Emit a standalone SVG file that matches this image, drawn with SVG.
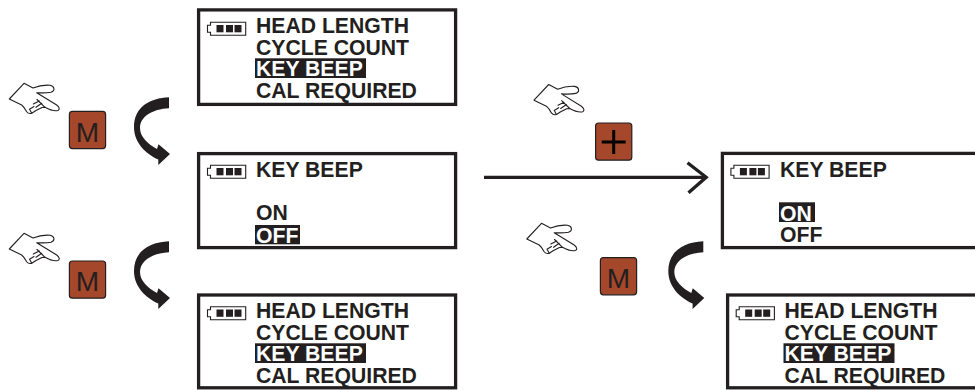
<svg xmlns="http://www.w3.org/2000/svg" width="975" height="390" viewBox="0 0 975 390">
<style>
.box{fill:#fff;stroke:#231f20;stroke-width:3.3}
.t{font-family:"Liberation Sans",Arial,sans-serif;font-weight:700;font-size:21.2px;fill:#231f20}
.w{fill:#fff}
.hl{fill:#231f20}
.btn{fill:#a5472a;stroke:#231f20;stroke-width:1.2}
.key{font-family:"Liberation Sans",Arial,sans-serif;font-size:28px;fill:#231f20;text-anchor:middle}
.hand{fill:#fff;stroke:#231f20;stroke-width:1.1;stroke-linejoin:round;stroke-linecap:round}
.line{fill:none;stroke:#231f20;stroke-width:3.3}
.curve{fill:#231f20}
</style>
<defs>
<g id="battery">
<path d="M207.5,25.2 L210.5,25.2 L210.5,22.2 L245.7,22.2 L245.7,35.2 L210.5,35.2 L210.5,32.2 L207.5,32.2 Z" fill="#fff" stroke="#231f20" stroke-width="1.1"/>
<rect x="216.5" y="25" width="7" height="7.3" fill="#231f20"/>
<rect x="226" y="25" width="7" height="7.3" fill="#231f20"/>
<rect x="234.5" y="25" width="7" height="7.3" fill="#231f20"/>
</g>
<g id="handShape">
<path class="hand" d="M9.3,99 L24,83.3 L33,88 C38,86 45,84.8 50,85.2 C54.5,86 55.5,90.5 51,92.2 C47,93 41,93 36.7,92.7 L56.7,105 C59.5,107 60,109.5 58,110.5 C54,111.5 49,109.5 45,107.3 L42,107.5 L36,110.5 L31.7,113.3 C29.5,113.8 27.5,112.8 26.7,111.7 C25,108.5 23.5,106.5 21.7,105 Z"/>
<path class="hand" d="M37,99.5 L45,107.3 M33.3,104 L39.3,101 M36,107.3 L41.7,103.3 M29.5,109.3 L34,106.5 M31.7,113.3 L30,110"/>
</g>
<path id="curveShape" class="curve" d="M169,97.3 C150,98 134,107 134,127 C134,143 146,154 158.3,159.5 L158.3,165 L170,154 L158.5,144.3 L157,149 C148,144 140,137 140,128 C140,117 152,109 169,108.3 Z"/>
<g id="menuText">
<text class="t" x="256" y="33.3">HEAD LENGTH</text>
<text class="t" x="256" y="54.5">CYCLE COUNT</text>
<rect class="hl" x="255" y="58.3" width="111" height="19.7"/>
<text class="t w" x="256" y="76">KEY BEEP</text>
<text class="t" x="256" y="98">CAL REQUIRED</text>
</g>
</defs>

<g id="connectors">
<path class="line" d="M484,177.3 L705,177.3"/>
<path class="line" d="M687.5,162.7 L706.2,177.3 L688.5,192.7"/>
<use href="#curveShape"/>
<use href="#curveShape" y="144"/>
<use href="#curveShape" x="534.3" y="144"/>
</g>

<g id="screen-menu-1">
<rect class="box" x="198.6" y="9.9" width="257" height="94.5"/>
<use href="#battery"/>
<use href="#menuText"/>
</g>
<g id="screen-beep-off">
<rect class="box" x="198.6" y="153.6" width="257" height="94"/>
<use href="#battery" y="143"/>
<text class="t" x="256" y="176.7">KEY BEEP</text>
<text class="t" x="256" y="220">ON</text>
<rect class="hl" x="255" y="225" width="45" height="19.3"/>
<text class="t w" x="256" y="242.7">OFF</text>
</g>
<g id="screen-menu-2">
<rect class="box" x="198.6" y="295" width="257" height="92.8"/>
<use href="#battery" y="284.5"/>
<use href="#menuText" y="285"/>
</g>
<g id="screen-beep-on">
<rect class="box" x="722.4" y="153.4" width="260" height="94.2"/>
<use href="#battery" x="523.4" y="143"/>
<text class="t" x="780" y="176.7">KEY BEEP</text>
<rect class="hl" x="779" y="202.3" width="36" height="19.7"/>
<text class="t w" x="780" y="220.5">ON</text>
<text class="t" x="780" y="241.9">OFF</text>
</g>
<g id="screen-menu-3">
<rect class="box" x="727.6" y="295" width="260" height="92.8"/>
<use href="#battery" x="528.7" y="284.5"/>
<use href="#menuText" x="528.5" y="285"/>
</g>

<g id="press-m-1">
<use href="#handShape"/>
<rect class="btn" x="69.4" y="111.4" width="36.2" height="37.2" rx="3"/>
<text class="key" x="87.5" y="141.7">M</text>
</g>
<g id="press-m-2">
<use href="#handShape" y="150"/>
<rect class="btn" x="69.4" y="261" width="36.2" height="37.2" rx="3"/>
<text class="key" x="87.5" y="291.3">M</text>
</g>
<g id="press-plus">
<use href="#handShape" x="524.7" y="1.2"/>
<rect class="btn" x="595.6" y="123" width="36.2" height="37.2" rx="3"/>
<path d="M613.7,130 V154 M601.7,142 H625.7" fill="none" stroke="#000" stroke-width="3"/>
</g>
<g id="press-m-3">
<use href="#handShape" x="517.5" y="140"/>
<rect class="btn" x="600.4" y="257.6" width="36.2" height="37.2" rx="3"/>
<text class="key" x="618.5" y="288">M</text>
</g>
</svg>
